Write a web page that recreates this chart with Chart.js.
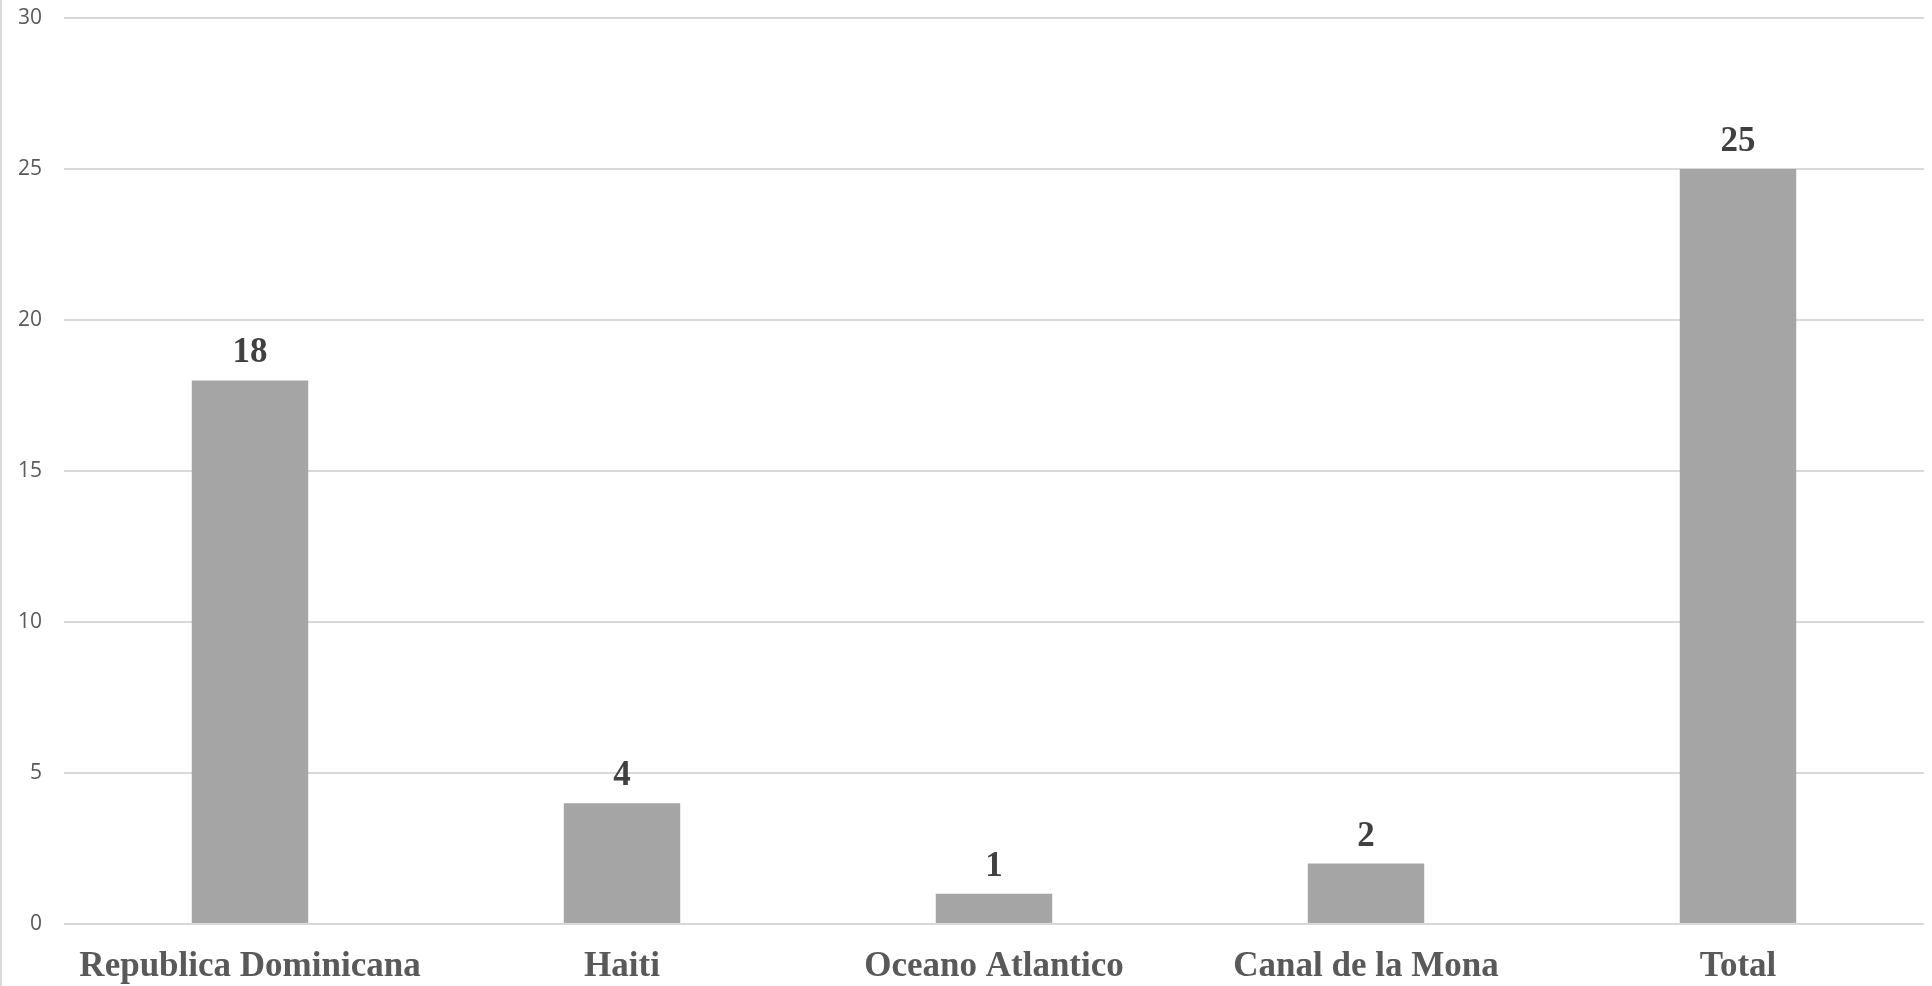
<!DOCTYPE html>
<html>
<head>
<meta charset="utf-8">
<script src="https://cdn.jsdelivr.net/npm/chart.js@4/dist/chart.umd.min.js"></script>
<style>
    html, body { margin: 0; padding: 0; background: #ffffff; }
    #wrap { width: 1930px; height: 986px; border-left: 2px solid #d9d9d9; }
</style>
</head>
<body>
<div id="wrap"><canvas id="myChart" width="1930" height="986"></canvas></div>
<script>
const categories = ["Republica Dominicana", "Haiti", "Oceano Atlantico", "Canal de la Mona", "Total"];
const values = [18, 4, 1, 2, 25];
const yTicks = [0, 5, 10, 15, 20, 25, 30];

// etiquetas de valor encima de cada barra
const valueLabels = {
    id: "valueLabels",
    afterDatasetsDraw(chart) {
        const ctx = chart.ctx;
        const meta = chart.getDatasetMeta(0);
        ctx.save();
        ctx.fillStyle = "#404040";
        ctx.font = "bold 35px 'Liberation Serif', 'Times New Roman', serif";
        ctx.textAlign = "center";
        ctx.textBaseline = "alphabetic";
        meta.data.forEach((bar, i) => {
            ctx.fillText(String(values[i]), bar.x, bar.y - 18);
        });
        ctx.restore();
    },
};

const ctx = document.getElementById("myChart").getContext("2d");
const myChart = new Chart(ctx, {
    type: "bar",
    data: {
        labels: categories,
        datasets: [
            {
                data: values,
                backgroundColor: "#a5a5a5",
                borderWidth: 0,
                barPercentage: 0.313,
                categoryPercentage: 1,
            },
        ],
    },
    plugins: [valueLabels],
    options: {
        responsive: false,
        animation: false,
        layout: {
            padding: { top: 18, right: 8, bottom: 0, left: 0 },
        },
        plugins: {
            legend: { display: false },
            tooltip: { enabled: false },
        },
        scales: {
            x: {
                grid: { display: false },
                border: { display: false },
                afterFit: function (scale) {
                    scale.height = 62;
                },
                ticks: {
                    color: "#595959",
                    padding: 14,
                    maxRotation: 0,
                    font: { family: "'Liberation Serif', 'Times New Roman', serif", size: 35, weight: "bold" },
                },
            },
            y: {
                min: 0,
                max: 30,
                afterFit: function (scale) {
                    scale.width = 62;
                    scale.paddingTop = 0;
                    scale.paddingBottom = 0;
                },
                afterBuildTicks: function (scale) {
                    scale.ticks = yTicks.map((v) => ({ value: v }));
                },
                grid: {
                    color: "#d9d9d9",
                    lineWidth: 2,
                    drawTicks: false,
                },
                border: { display: false },
                ticks: {
                    color: "#595959",
                    padding: 22,
                    font: { family: "'Open Sans', sans-serif", size: 21 },
                },
            },
        },
    },
});
</script>
</body>
</html>
